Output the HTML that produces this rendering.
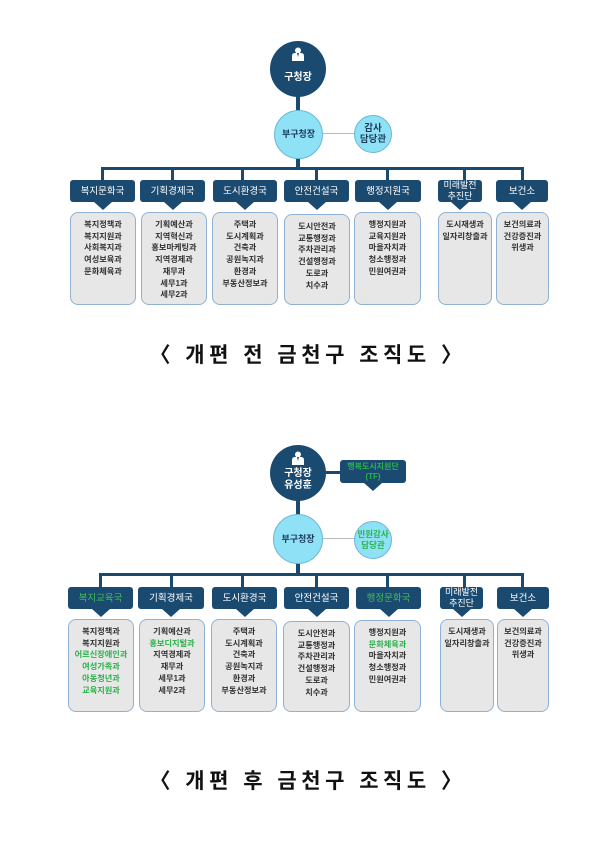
<!DOCTYPE html>
<html><head><meta charset="utf-8"><style>
*{margin:0;padding:0;box-sizing:border-box}
body{width:600px;height:856px;background:#fff;position:relative;overflow:hidden;font-family:"Liberation Sans","Noto Sans CJK KR",sans-serif}
.a{position:absolute}
.ln{position:absolute;background:#1b4a70}
.hd{position:absolute;background:#1b4a70;color:#fff;font-size:9.5px;text-align:center;border-radius:3px;display:flex;align-items:center;justify-content:center;line-height:11px}
.hd:after{content:"";position:absolute;left:50%;bottom:-8px;margin-left:-9px;border-left:9px solid transparent;border-right:9px solid transparent;border-top:8px solid #1b4a70}
.bx{position:absolute;background:#e7e7e7;border:1px solid #8fb2d4;border-radius:8px;font-size:8.2px;font-weight:bold;color:#333;text-align:center;line-height:11.7px;padding-top:6px}
.g{color:#2bb24c}
.c1{position:absolute;border-radius:50%;background:#1b4a70;color:#fff;font-weight:bold;font-size:10px;text-align:center}
.c2{position:absolute;border-radius:50%;background:#8fe1f6;border:1px solid #6bb7d6;color:#1b3a5a;font-weight:bold;font-size:9px;display:flex;align-items:center;justify-content:center;text-align:center;line-height:11px}
.ttl{position:absolute;left:8px;width:600px;text-align:center;font-size:21px;font-weight:bold;letter-spacing:4.5px;color:#111}
.ic{position:absolute;left:50%;margin-left:-7px;width:14px;height:14px}
</style></head><body>

<!-- TOP CHART -->
<div class="ln" style="left:296px;top:95px;width:4px;height:17px"></div>
<div class="a" style="left:320px;top:133px;width:36px;height:1px;background:#bbb"></div>
<div class="ln" style="left:296px;top:157px;width:4px;height:12px"></div>
<div class="ln" style="left:102px;top:167px;width:422px;height:3px"></div>
<div class="ln" style="left:101px;top:167px;width:3px;height:14px"></div>
<div class="ln" style="left:171px;top:167px;width:3px;height:14px"></div>
<div class="ln" style="left:241px;top:167px;width:3px;height:14px"></div>
<div class="ln" style="left:315px;top:167px;width:3px;height:14px"></div>
<div class="ln" style="left:386px;top:167px;width:3px;height:14px"></div>
<div class="ln" style="left:463px;top:167px;width:3px;height:14px"></div>
<div class="ln" style="left:521px;top:167px;width:3px;height:14px"></div>

<div class="c1" style="left:270px;top:41px;width:56px;height:56px">
<svg class="ic" style="top:6px" viewBox="0 0 14 14"><circle cx="7" cy="3.5" r="3" fill="#fff"/><path d="M1 14V9q0-3 3-3h6q3 0 3 3v5z" fill="#fff"/><path d="M6 6l1 4 1-4z" fill="#1b4a70"/></svg>
<div style="position:absolute;top:27px;width:100%">구청장</div></div>
<div class="c2" style="left:274px;top:110px;width:49px;height:49px">부구청장</div>
<div class="c2" style="left:354px;top:115px;width:38px;height:38px;font-size:9.5px">감사<br>담당관</div>

<div class="hd" style="left:70px;top:180px;width:65px;height:22px">복지문화국</div>
<div class="hd" style="left:140px;top:180px;width:65px;height:22px">기획경제국</div>
<div class="hd" style="left:213px;top:180px;width:64px;height:22px">도시환경국</div>
<div class="hd" style="left:284px;top:180px;width:65px;height:22px">안전건설국</div>
<div class="hd" style="left:355px;top:180px;width:66px;height:22px">행정지원국</div>
<div class="hd" style="left:438px;top:180px;width:44px;height:22px;font-size:9px">미래발전<br>추진단</div>
<div class="hd" style="left:496px;top:180px;width:52px;height:22px">보건소</div>

<div class="bx" style="left:70px;top:212px;width:66px;height:93px">복지정책과<br>복지지원과<br>사회복지과<br>여성보육과<br>문화체육과</div>
<div class="bx" style="left:141px;top:212px;width:66px;height:93px">기획예산과<br>지역혁신과<br>홍보마케팅과<br>지역경제과<br>재무과<br>세무1과<br>세무2과</div>
<div class="bx" style="left:212px;top:212px;width:66px;height:93px">주택과<br>도시계획과<br>건축과<br>공원녹지과<br>환경과<br>부동산정보과</div>
<div class="bx" style="left:284px;top:214px;width:66px;height:91px">도시안전과<br>교통행정과<br>주차관리과<br>건설행정과<br>도로과<br>치수과</div>
<div class="bx" style="left:354px;top:212px;width:67px;height:93px">행정지원과<br>교육지원과<br>마을자치과<br>청소행정과<br>민원여권과</div>
<div class="bx" style="left:438px;top:212px;width:54px;height:93px">도시재생과<br>일자리창출과</div>
<div class="bx" style="left:496px;top:212px;width:53px;height:93px">보건의료과<br>건강증진과<br>위생과</div>

<div class="ttl" style="top:339px">〈 개편 전 금천구 조직도 〉</div>

<!-- BOTTOM CHART -->
<div class="ln" style="left:320px;top:471px;width:22px;height:3px"></div>
<div class="ln" style="left:296px;top:500px;width:4px;height:16px"></div>
<div class="a" style="left:320px;top:538px;width:36px;height:1px;background:#bbb"></div>
<div class="ln" style="left:296px;top:562px;width:4px;height:12px"></div>
<div class="ln" style="left:100px;top:573px;width:424px;height:3px"></div>
<div class="ln" style="left:99px;top:573px;width:3px;height:14px"></div>
<div class="ln" style="left:170px;top:573px;width:3px;height:14px"></div>
<div class="ln" style="left:241px;top:573px;width:3px;height:14px"></div>
<div class="ln" style="left:315px;top:573px;width:3px;height:14px"></div>
<div class="ln" style="left:386px;top:573px;width:3px;height:14px"></div>
<div class="ln" style="left:463px;top:573px;width:3px;height:14px"></div>
<div class="ln" style="left:521px;top:573px;width:3px;height:14px"></div>

<div class="c1" style="left:270px;top:445px;width:56px;height:56px">
<svg class="ic" style="top:6px" viewBox="0 0 14 14"><circle cx="7" cy="3.5" r="3" fill="#fff"/><path d="M1 14V9q0-3 3-3h6q3 0 3 3v5z" fill="#fff"/><path d="M6 6l1 4 1-4z" fill="#1b4a70"/></svg>
<div style="position:absolute;top:23px;width:100%;line-height:12px">구청장<br>유성훈</div></div>
<div class="hd" style="left:340px;top:460px;width:66px;height:23px;font-size:8px;font-weight:bold;color:#2bb24c;line-height:10px">행복도시지원단<br>(TF)</div>
<div class="c2" style="left:273px;top:514px;width:50px;height:50px">부구청장</div>
<div class="c2" style="left:354px;top:521px;width:38px;height:38px;color:#2bb24c;font-size:8.5px">민원감사<br>담당관</div>

<div class="hd g" style="left:68px;top:587px;width:65px;height:22px;color:#3cc05a">복지교육국</div>
<div class="hd" style="left:138px;top:587px;width:66px;height:22px">기획경제국</div>
<div class="hd" style="left:212px;top:587px;width:65px;height:22px">도시환경국</div>
<div class="hd" style="left:284px;top:587px;width:65px;height:22px">안전건설국</div>
<div class="hd" style="left:356px;top:587px;width:65px;height:22px;color:#3cc05a">행정문화국</div>
<div class="hd" style="left:440px;top:587px;width:43px;height:22px;font-size:9px">미래발전<br>추진단</div>
<div class="hd" style="left:497px;top:587px;width:52px;height:22px">보건소</div>

<div class="bx" style="left:68px;top:619px;width:66px;height:93px">복지정책과<br>복지지원과<br><span class="g">어르신장애인과<br>여성가족과<br>아동청년과<br>교육지원과</span></div>
<div class="bx" style="left:139px;top:619px;width:66px;height:93px">기획예산과<br><span class="g">홍보디지털과</span><br>지역경제과<br>재무과<br>세무1과<br>세무2과</div>
<div class="bx" style="left:211px;top:619px;width:66px;height:93px">주택과<br>도시계획과<br>건축과<br>공원녹지과<br>환경과<br>부동산정보과</div>
<div class="bx" style="left:283px;top:621px;width:67px;height:91px">도시안전과<br>교통행정과<br>주차관리과<br>건설행정과<br>도로과<br>치수과</div>
<div class="bx" style="left:354px;top:620px;width:67px;height:92px">행정지원과<br><span class="g">문화체육과</span><br>마을자치과<br>청소행정과<br>민원여권과</div>
<div class="bx" style="left:440px;top:619px;width:54px;height:93px">도시재생과<br>일자리창출과</div>
<div class="bx" style="left:497px;top:619px;width:52px;height:93px">보건의료과<br>건강증진과<br>위생과</div>

<div class="ttl" style="top:765px">〈 개편 후 금천구 조직도 〉</div>
</body></html>
